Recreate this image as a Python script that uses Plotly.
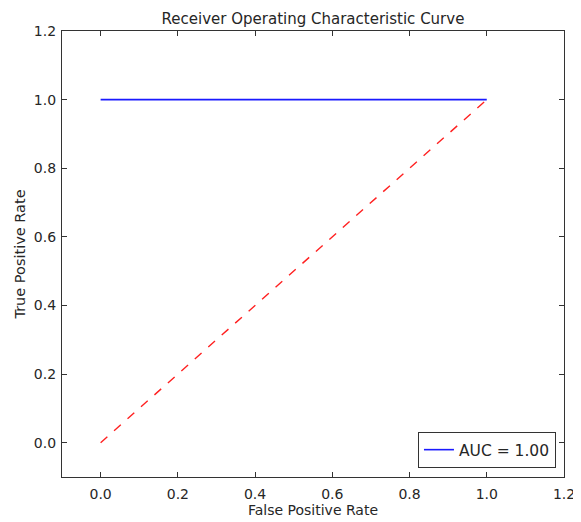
import plotly.graph_objects as go

fpr = [0.0, 1.0]
tpr = [1.0, 1.0]
diag_x = [0.0, 1.0]
diag_y = [0.0, 1.0]
auc_label = "AUC = 1.00"
tick_vals = [0.0, 0.2, 0.4, 0.6, 0.8, 1.0, 1.2]
tick_text = ["0.0", "0.2", "0.4", "0.6", "0.8", "1.0", "1.2"]

FONT = "DejaVu Sans"
TXT = "#262626"
W, H = 573, 514  # page body has an 8px margin

fig = go.Figure()
fig.add_trace(go.Scatter(x=fpr, y=tpr, mode="lines", name=auc_label,
                         line=dict(color="#1a1aff", width=1.6)))
fig.add_trace(go.Scatter(x=diag_x, y=diag_y, mode="lines", showlegend=False,
                         line=dict(color="#ff2020", width=1.4, dash="dash")))

axis_common = dict(
    showgrid=False, zeroline=False, showline=True, linecolor="#333333", linewidth=1.3,
    mirror="allticks", ticks="inside", ticklen=5, tickcolor="#333333", tickwidth=1,
    tickfont=dict(family=FONT, size=14, color=TXT),
    tickvals=tick_vals, ticktext=tick_text, automargin=False,
)

fig.update_layout(
    width=W, height=H,
    margin=dict(l=54, r=17, t=23, b=45),
    paper_bgcolor="white", plot_bgcolor="white",
    font=dict(family=FONT, color=TXT),
    title=dict(text="Receiver Operating Characteristic Curve", x=0.5, xref="paper",
               xanchor="center", y=1 - 11 / H, yref="container", yanchor="middle",
               font=dict(family=FONT, size=15, color=TXT)),
    xaxis=dict(range=[-0.1, 1.2], ticklabelstandoff=4,
               title=dict(text="False Positive Rate", standoff=3,
                          font=dict(family=FONT, size=14, color=TXT)), **axis_common),
    yaxis=dict(range=[-0.1, 1.2], ticklabelstandoff=2,
               title=dict(text="True Positive Rate", standoff=4,
                          font=dict(family=FONT, size=14.5, color=TXT)), **axis_common),
    legend=dict(x=0.984, y=0.02, xanchor="right", yanchor="bottom",
                bgcolor="white", bordercolor="#333333", borderwidth=1,
                font=dict(family=FONT, size=15.5, color=TXT)),
)

fig.write_html("out.html")
